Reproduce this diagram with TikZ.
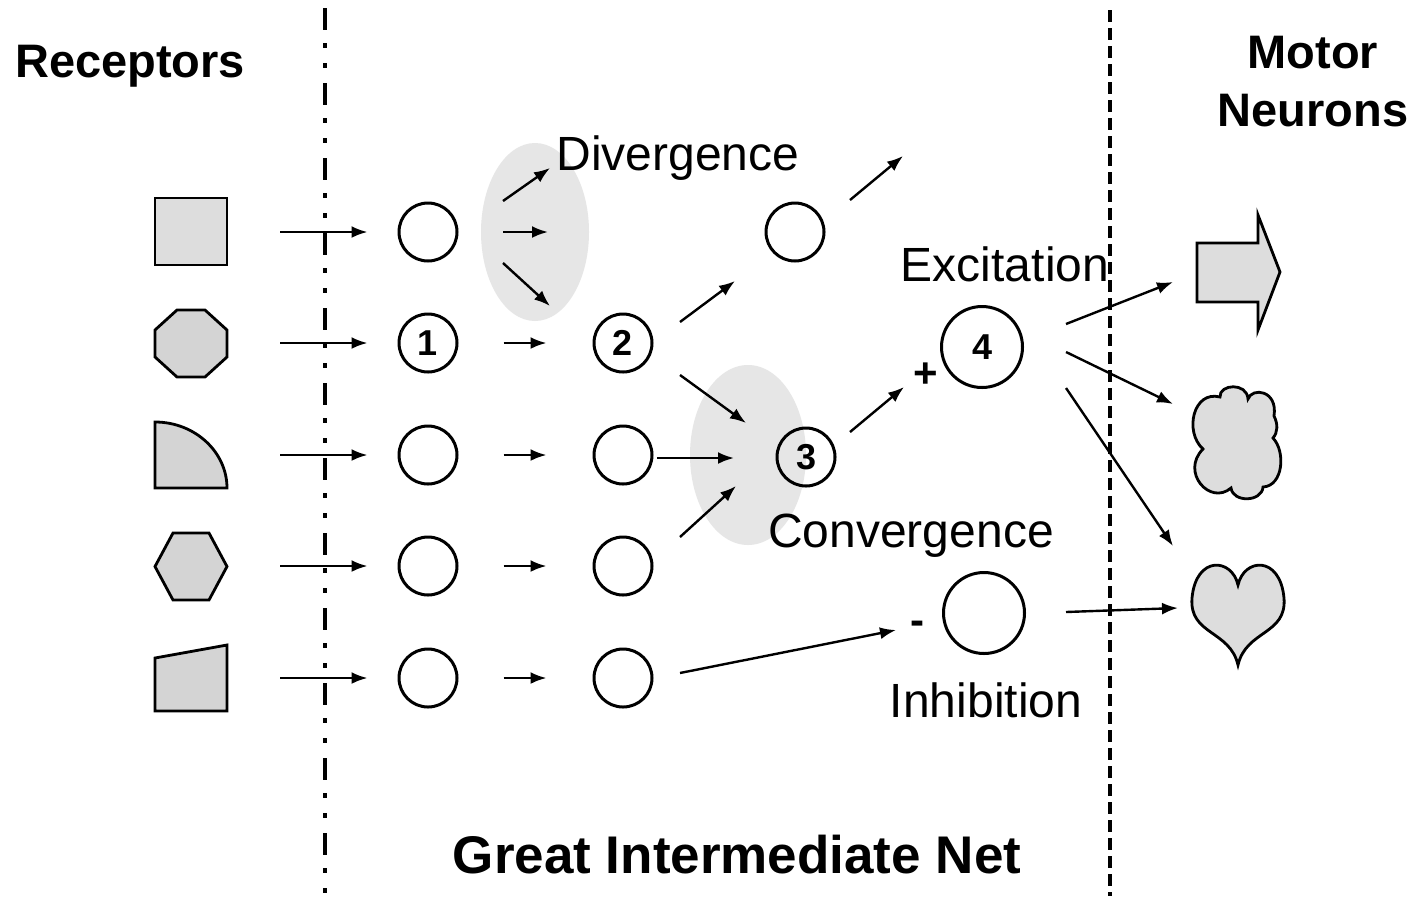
\documentclass[tikz,border=0pt]{standalone}
\usepackage{fontspec}
\setmainfont{Liberation Sans}
\usetikzlibrary{arrows.meta}
\definecolor{recgray}{HTML}{D4D4D4}
\definecolor{litegray}{HTML}{DDDDDD}
\definecolor{blobgray}{HTML}{E6E6E6}
\begin{document}
\begin{tikzpicture}[x=1pt,y=-1pt,
  arr/.style={line width=2.4pt, -{Latex[length=16pt,width=12pt]}},
  cell/.style={circle, draw, line width=3pt, minimum size=58pt, inner sep=0pt, font=\fontsize{36}{36}\selectfont\bfseries},
  bigcell/.style={cell, minimum size=81pt},
  rec/.style={draw, line width=2.8pt, fill=recgray, line join=miter},
  lbl/.style={font=\fontsize{48}{56}\selectfont, inner sep=0pt},
  hdr/.style={font=\fontsize{47}{58}\selectfont\bfseries, align=center, inner sep=0pt},
  blob/.style={fill=blobgray, draw=none},
  sign/.style={font=\fontsize{42}{42}\selectfont\bfseries, inner sep=0pt}
]
\fill[white] (0,0) rectangle (1418,906);
\useasboundingbox (0,0) rectangle (1418,906);

% gray blobs
\path[blob] (535,232) ellipse [x radius=54, y radius=89];
\path[blob] (748,455) ellipse [x radius=58, y radius=90];

% boundary lines
\coordinate (lt) at (325,8);
\coordinate (lb) at (325,902);
\coordinate (rt) at (1110,10);
\coordinate (rb) at (1110,896);
\draw[line width=4pt, dash pattern=on 22pt off 13pt on 5pt off 15pt on 5pt off 15pt] (lt) -- (lb);
\draw[line width=4pt, dash pattern=on 12pt off 6pt] (rt) -- (rb);

% receptors
\draw[rec, fill=litegray] (155,198) rectangle (227,265);
\draw[rec] (177,310) -- (205,310) -- (227,330) -- (227,357) -- (205,377) -- (177,377) -- (155,357) -- (155,330) -- cycle;
\draw[rec] (155,488) -- (155,422) .. controls (195,422) and (227,452) .. (227,488) -- cycle;
\draw[rec] (173,533) -- (209,533) -- (227,566.5) -- (209,600) -- (173,600) -- (155,566.5) -- cycle;
\draw[rec] (155,658) -- (227,645) -- (227,711) -- (155,711) -- cycle;
\coordinate (r1) at (227,232);
\coordinate (r2) at (227,343);
\coordinate (r3) at (227,455);
\coordinate (r4) at (227,566);
\coordinate (r5) at (227,678);

% motor neurons
\draw[rec, fill=litegray] (1197,243) -- (1258,243) -- (1258,215) -- (1280,272) -- (1258,330) -- (1258,302) -- (1197,302) -- cycle;
\draw[rec, fill=litegray] (1220,397) .. controls (1219,384) and (1247,382) .. (1248,399)
  .. controls (1252,387) and (1278,390) .. (1274,416)
  .. controls (1278,424) and (1278,432) .. (1273,438)
  .. controls (1286,452) and (1283,486) .. (1263,487)
  .. controls (1262,502) and (1233,503) .. (1231,488)
  .. controls (1210,506) and (1180,472) .. (1203,449)
  .. controls (1184,432) and (1193,390) .. cycle;
\draw[rec, fill=litegray] (1238,585) .. controls (1232,558) and (1196,555) .. (1192,598)
  .. controls (1189,635) and (1230,630) .. (1238,665)
  .. controls (1246,630) and (1287,635) .. (1284,598)
  .. controls (1280,555) and (1244,558) .. cycle;

% intermediate cells
\node[cell] (a1) at (428,232) {};
\node[cell] (a2) at (428,343) {1};
\node[cell] (a3) at (428,455) {};
\node[cell] (a4) at (428,566) {};
\node[cell] (a5) at (428,678) {};
\node[cell] (b2) at (623,343) {2};
\node[cell] (b3) at (623,455) {};
\node[cell] (b4) at (623,566) {};
\node[cell] (b5) at (623,678) {};
\node[cell] (u1) at (795,232) {};
\node[cell] (c3) at (806,457) {3};
\node[bigcell] (d4) at (982,347) {4};
\node[bigcell] (di) at (984,613) {};

% receptor arrows
\foreach \i in {1,...,5}{
  \draw[arr, shorten <=53pt, shorten >=30pt] (r\i) -- (a\i);
}
\foreach \i in {2,...,5}{
  \draw[arr, shorten <=45pt, shorten >=46pt] (a\i) -- (b\i);
}

% divergence
\coordinate (dv1s) at (503,201);
\coordinate (dv1e) at (550,168);
\coordinate (dv2s) at (503,232);
\coordinate (dv2e) at (548,232);
\coordinate (dv3s) at (503,263);
\coordinate (dv3e) at (550,306);
\draw[arr] (dv1s) -- (dv1e);
\draw[arr] (dv2s) -- (dv2e);
\draw[arr] (dv3s) -- (dv3e);

% from 2
\coordinate (p1s) at (680,322);
\coordinate (p1e) at (735,281);
\draw[arr] (p1s) -- (p1e);
\coordinate (p2s) at (680,375);
\coordinate (p2e) at (746,423);
\draw[arr] (p2s) -- (p2e);
% convergence
\coordinate (p3s) at (657,458);
\coordinate (p3e) at (734,458);
\draw[arr] (p3s) -- (p3e);
\coordinate (p4s) at (680,537);
\coordinate (p4e) at (736,486);
\draw[arr] (p4s) -- (p4e);
% from upper circle
\coordinate (q1s) at (850,200);
\coordinate (q1e) at (903,156);
\draw[arr] (q1s) -- (q1e);
% from 3
\coordinate (q2s) at (850,432);
\coordinate (q2e) at (904,387);
\draw[arr] (q2s) -- (q2e);
% inhibition input
\coordinate (q3s) at (680,673);
\coordinate (q3e) at (896,630);
\draw[arr] (q3s) -- (q3e);
% outputs of 4
\coordinate (o1s) at (1066,324);
\coordinate (o1e) at (1173,282);
\coordinate (o2s) at (1066,352);
\coordinate (o2e) at (1173,404);
\coordinate (o3s) at (1066,388);
\coordinate (o3e) at (1173,546);
\coordinate (o4s) at (1066,612);
\coordinate (o4e) at (1178,608);
\draw[arr] (o1s) -- (o1e);
\draw[arr] (o2s) -- (o2e);
\draw[arr] (o3s) -- (o3e);
\draw[arr] (o4s) -- (o4e);

% signs
\node[sign] (plus) at (926,375) {+};
\node[sign] (minus) at (917,628) {-};

% labels
\node[hdr] (receptors) at (130,66) {Receptors};
\node[hdr] (motor) at (1313,82) {Motor\\Neurons};
\node[lbl] (divergence) at (678,158) {Divergence};
\node[lbl] (excitation) at (1005,264) {Excitation};
\node[lbl] (convergence) at (911,536) {Convergence};
\node[lbl] (inhibition) at (986,700) {Inhibition};
\node[hdr, font=\fontsize{53}{60}\selectfont\bfseries] (gin) at (737,855) {Great Intermediate Net};
\end{tikzpicture}
\end{document}
